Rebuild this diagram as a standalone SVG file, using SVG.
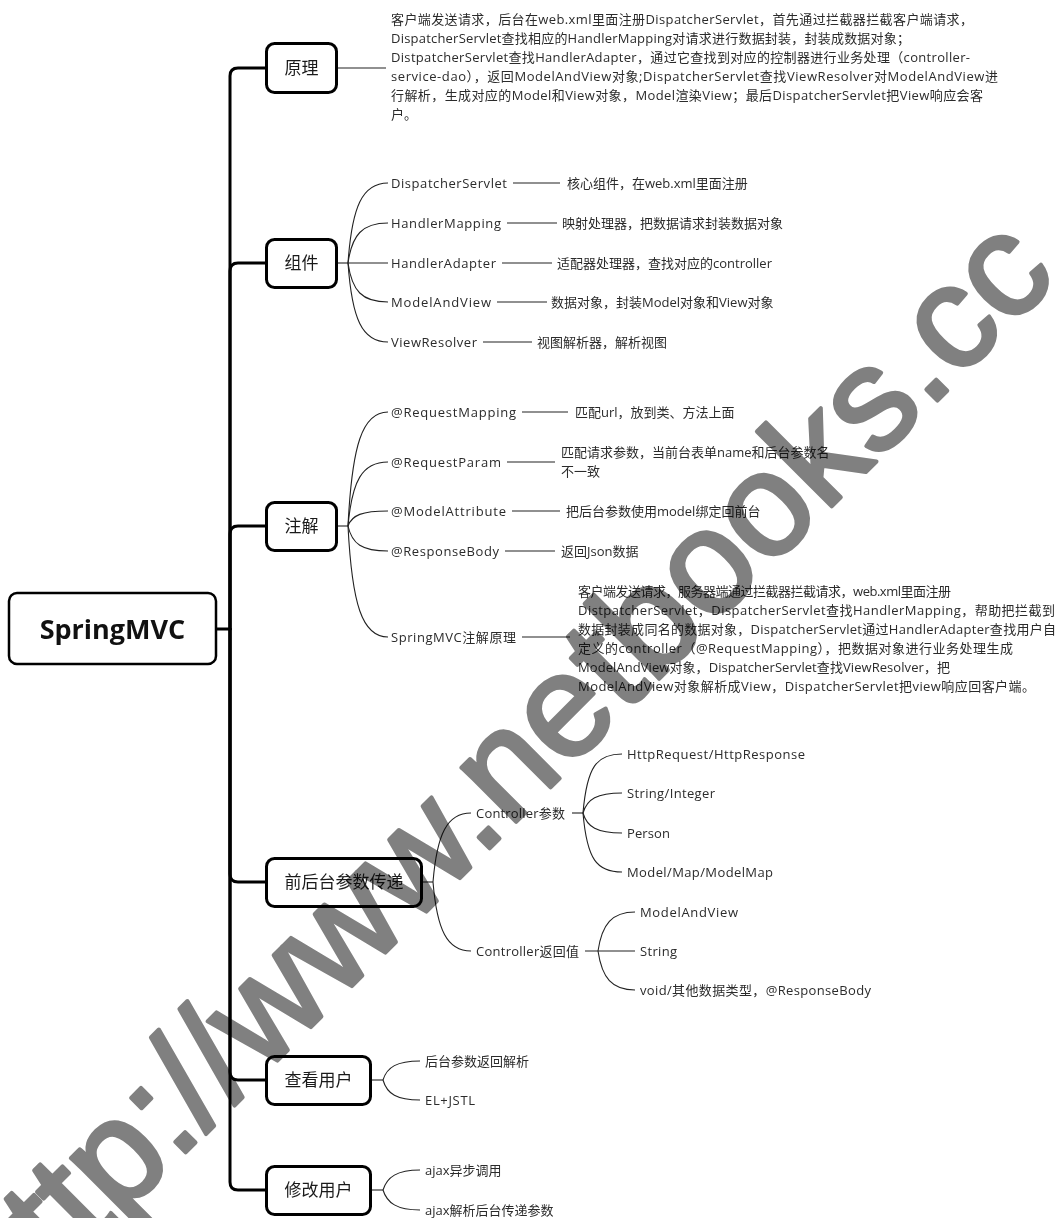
<svg xmlns="http://www.w3.org/2000/svg" width="1058" height="1218" viewBox="0 0 1058 1218">
<style>
.t{font-family:"Open Sans","Noto Sans CJK SC",sans-serif;font-size:13px;fill:#2b2b2b}
.b{font-family:"Open Sans","Noto Sans CJK SC",sans-serif;font-size:17px;fill:#1a1a1a;text-anchor:middle}
.root{font-family:"Open Sans","Noto Sans CJK SC",sans-serif;font-size:27px;font-weight:bold;fill:#111;text-anchor:middle}
.box{fill:#fff;stroke:#000;stroke-width:3}
.thin{fill:none;stroke:#222;stroke-width:1.1}
.thick{fill:none;stroke:#000;stroke-width:3;stroke-linecap:round;stroke-linejoin:round}
.wm{font-family:"Liberation Sans",Arial,sans-serif;font-size:146px;font-weight:normal;fill:#808080;stroke:#808080;stroke-width:4;stroke-linejoin:round;mix-blend-mode:multiply}
</style>

<g id="connectors">
  <path class="thick" d="M217,629 H230"/>
  <path class="thick" d="M230,629 V76 Q230,68 238,68 H265"/>
  <path class="thick" d="M230,629 V271 Q230,263 238,263 H265"/>
  <path class="thick" d="M230,629 V534 Q230,526 238,526 H265"/>
  <path class="thick" d="M230,629 V874 Q230,882 238,882 H265"/>
  <path class="thick" d="M230,629 V1072 Q230,1080 238,1080 H265"/>
  <path class="thick" d="M230,629 V1182 Q230,1190 238,1190 H265"/>

  <path class="thin" d="M338,68 H386"/>

  <path class="thin" d="M337,263 H348"/>
  <path class="thin" d="M348,263 C352,207 362,183 388,183"/>
  <path class="thin" d="M348,263 C352,235 362,223 388,223"/>
  <path class="thin" d="M348,263 H388"/>
  <path class="thin" d="M348,263 C352,291 362,302 388,302"/>
  <path class="thin" d="M348,263 C352,319 362,342 388,342"/>
  <path class="thin" d="M513,183 H560"/>
  <path class="thin" d="M507,223 H557"/>
  <path class="thin" d="M502,263 H552"/>
  <path class="thin" d="M497,302 H547"/>
  <path class="thin" d="M483,342 H532"/>

  <path class="thin" d="M337,526 H348"/>
  <path class="thin" d="M348,526 C352,446 362,412 388,412"/>
  <path class="thin" d="M348,526 C352,481 362,462 388,462"/>
  <path class="thin" d="M348,526 C352,515 362,511 388,511"/>
  <path class="thin" d="M348,526 C352,544 362,551 388,551"/>
  <path class="thin" d="M348,526 C352,604 362,637 388,637"/>
  <path class="thin" d="M522,412 H568"/>
  <path class="thin" d="M507,462 H555"/>
  <path class="thin" d="M512,511 H560"/>
  <path class="thin" d="M505,551 H555"/>
  <path class="thin" d="M522,637 H570"/>

  <path class="thin" d="M422,882 H433"/>
  <path class="thin" d="M433,882 C437,834 447,813 471,813"/>
  <path class="thin" d="M433,882 C437,930 447,951 471,951"/>
  <path class="thin" d="M572,813 H583"/>
  <path class="thin" d="M583,813 C587,766 597,754 622,754"/>
  <path class="thin" d="M583,813 C587,799 597,793 622,793"/>
  <path class="thin" d="M583,813 C587,827 597,833 622,833"/>
  <path class="thin" d="M583,813 C587,860 597,872 622,872"/>
  <path class="thin" d="M585,951 H635"/>
  <path class="thin" d="M598,951 C602,924 612,912 635,912"/>
  <path class="thin" d="M598,951 C602,978 612,990 635,990"/>

  <path class="thin" d="M371,1080 H383"/>
  <path class="thin" d="M383,1080 C387,1067 397,1061 420,1061"/>
  <path class="thin" d="M383,1080 C387,1094 397,1100 420,1100"/>

  <path class="thin" d="M371,1190 H383"/>
  <path class="thin" d="M383,1190 C387,1177 397,1170 420,1170"/>
  <path class="thin" d="M383,1190 C387,1203 397,1210 420,1210"/>
</g>

<g id="root">
  <rect x="9" y="593" width="207" height="71" rx="8" fill="#fff" stroke="#000" stroke-width="2.5"/>
  <text class="root" x="112.5" y="639">SpringMVC</text>
</g>

<g id="n-yuanli">
  <rect class="box" x="266.5" y="43.5" width="70" height="49" rx="8"/>
  <text class="b" x="301.5" y="74">原理</text>
  <text class="t" x="391" y="24" textLength="582">客户端发送请求，后台在web.xml里面注册DispatcherServlet，首先通过拦截器拦截客户端请求，</text>
  <text class="t" x="391" y="43" textLength="519">DispatcherServlet查找相应的HandlerMapping对请求进行数据封装，封装成数据对象；</text>
  <text class="t" x="391" y="62" textLength="579">DistpatcherServlet查找HandlerAdapter，通过它查找到对应的控制器进行业务处理（controller-</text>
  <text class="t" x="391" y="81" textLength="607">service-dao），返回ModelAndView对象;DispatcherServlet查找ViewResolver对ModelAndView进</text>
  <text class="t" x="391" y="100" textLength="592">行解析，生成对应的Model和View对象，Model渲染View；最后DispatcherServlet把View响应会客</text>
  <text class="t" x="391" y="119">户。</text>
</g>

<g id="n-zujian">
  <rect class="box" x="266.5" y="239.5" width="70" height="48" rx="8"/>
  <text class="b" x="301.5" y="269">组件</text>
</g>
<g id="n-dispatcher">
  <text class="t" x="391" y="188" textLength="116">DispatcherServlet</text>
  <text class="t" x="567" y="188">核心组件，在web.xml里面注册</text>
</g>
<g id="n-handlermapping">
  <text class="t" x="391" y="228" textLength="110">HandlerMapping</text>
  <text class="t" x="562" y="228">映射处理器，把数据请求封装数据对象</text>
</g>
<g id="n-handleradapter">
  <text class="t" x="391" y="268" textLength="105">HandlerAdapter</text>
  <text class="t" x="557" y="268">适配器处理器，查找对应的controller</text>
</g>
<g id="n-modelandview">
  <text class="t" x="391" y="307" textLength="100">ModelAndView</text>
  <text class="t" x="551" y="307">数据对象，封装Model对象和View对象</text>
</g>
<g id="n-viewresolver">
  <text class="t" x="391" y="347" textLength="86">ViewResolver</text>
  <text class="t" x="537" y="347">视图解析器，解析视图</text>
</g>

<g id="n-zhujie">
  <rect class="box" x="266.5" y="502.5" width="70" height="48" rx="8"/>
  <text class="b" x="301.5" y="532">注解</text>
</g>
<g id="n-requestmapping">
  <text class="t" x="391" y="417" textLength="125">@RequestMapping</text>
  <text class="t" x="575" y="417">匹配url，放到类、方法上面</text>
</g>
<g id="n-requestparam">
  <text class="t" x="391" y="467" textLength="110">@RequestParam</text>
  <text class="t" x="561" y="457">匹配请求参数，当前台表单name和后台参数名</text>
  <text class="t" x="561" y="476">不一致</text>
</g>
<g id="n-modelattribute">
  <text class="t" x="391" y="516" textLength="115">@ModelAttribute</text>
  <text class="t" x="566" y="516">把后台参数使用model绑定回前台</text>
</g>
<g id="n-responsebody">
  <text class="t" x="391" y="556" textLength="108">@ResponseBody</text>
  <text class="t" x="561" y="556">返回Json数据</text>
</g>
<g id="n-annotation-principle">
  <text class="t" x="391" y="642" textLength="125">SpringMVC注解原理</text>
  <text class="t" x="578" y="596" textLength="373">客户端发送请求，服务器端通过拦截器拦截请求，web.xml里面注册</text>
  <text class="t" x="578" y="615" textLength="477">DistpatcherServlet，DispatcherServlet查找HandlerMapping，帮助把拦截到</text>
  <text class="t" x="578" y="634" textLength="478">数据封装成同名的数据对象，DispatcherServlet通过HandlerAdapter查找用户自</text>
  <text class="t" x="578" y="653" textLength="435">定义的controller（@RequestMapping），把数据对象进行业务处理生成</text>
  <text class="t" x="578" y="672" textLength="372">ModelAndView对象，DispatcherServlet查找ViewResolver，把</text>
  <text class="t" x="578" y="691" textLength="457">ModelAndView对象解析成View，DispatcherServlet把view响应回客户端。</text>
</g>

<g id="n-params">
  <rect class="box" x="266.5" y="858.5" width="155" height="48" rx="8"/>
  <text class="b" x="344" y="888">前后台参数传递</text>
</g>
<g id="n-ctrl-params">
  <text class="t" x="476" y="818" textLength="89">Controller参数</text>
</g>
<g id="n-httprequest"><text class="t" x="627" y="759" textLength="178">HttpRequest/HttpResponse</text></g>
<g id="n-string-integer"><text class="t" x="627" y="798" textLength="88">String/Integer</text></g>
<g id="n-person"><text class="t" x="627" y="838" textLength="43">Person</text></g>
<g id="n-model-map"><text class="t" x="627" y="877" textLength="146">Model/Map/ModelMap</text></g>
<g id="n-ctrl-return">
  <text class="t" x="476" y="956" textLength="103">Controller返回值</text>
</g>
<g id="n-ret-mav"><text class="t" x="640" y="917" textLength="98">ModelAndView</text></g>
<g id="n-ret-string"><text class="t" x="640" y="956" textLength="37">String</text></g>
<g id="n-ret-void"><text class="t" x="640" y="995" textLength="231">void/其他数据类型，@ResponseBody</text></g>

<g id="n-view-user">
  <rect class="box" x="266.5" y="1056.5" width="104" height="48" rx="8"/>
  <text class="b" x="318.5" y="1086">查看用户</text>
</g>
<g id="n-view-1"><text class="t" x="425" y="1066">后台参数返回解析</text></g>
<g id="n-view-2"><text class="t" x="425" y="1105" textLength="50">EL+JSTL</text></g>

<g id="n-edit-user">
  <rect class="box" x="266.5" y="1166.5" width="104" height="48" rx="8"/>
  <text class="b" x="318.5" y="1196">修改用户</text>
</g>
<g id="n-edit-1"><text class="t" x="425" y="1175">ajax异步调用</text></g>
<g id="n-edit-2"><text class="t" x="425" y="1215">ajax解析后台传递参数</text></g>

<g id="watermark">
  <text class="wm" x="4" y="1334" transform="rotate(-45 4 1334)">http://www.netbooks.cc</text>
</g>
</svg>
